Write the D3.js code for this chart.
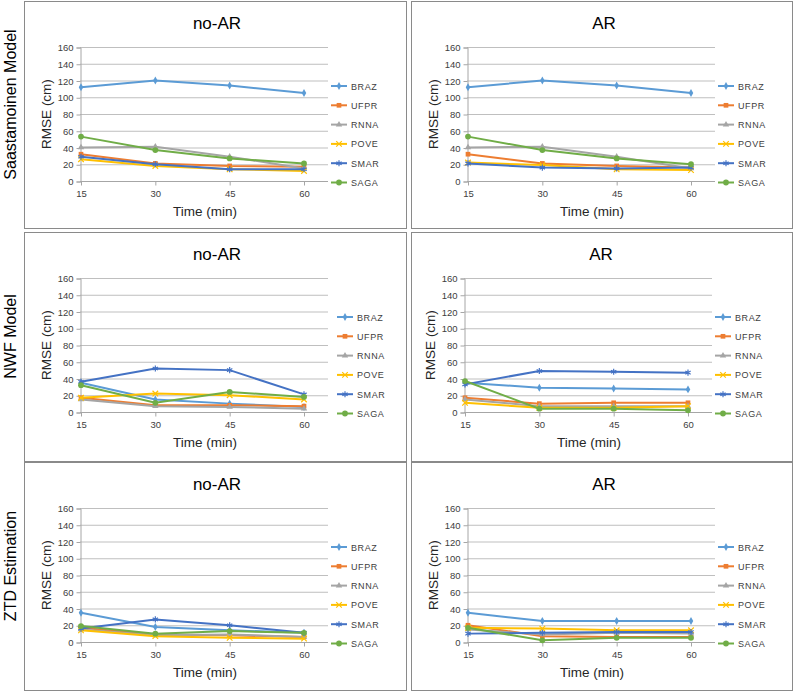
<!DOCTYPE html>
<html>
<head>
<meta charset="utf-8">
<script src="https://cdn.jsdelivr.net/npm/d3@7"></script>
<style>
  body { margin: 0; background: #fff; }
  text { font-family: "Liberation Sans", Arial, sans-serif; }
</style>
</head>
<body>
<svg id="chart" width="799" height="698"></svg>
<script>
    // data
    const times = [15, 30, 45, 60];
    const stations = ["BRAZ", "UFPR", "RNNA", "POVE", "SMAR", "SAGA"];
    const rowLabels = ["Saastamoinen Model", "NWF Model", "ZTD Estimation"];
    const colTitles = ["no-AR", "AR"];
    const yTicks = [0, 20, 40, 60, 80, 100, 120, 140, 160];

    // one array per panel, rows in station order
    const saasNoAR = [
        [112, 120, 114, 105],
        [32, 21, 18, 17],
        [40, 41, 29, 15],
        [26, 18, 14, 12],
        [29, 20, 14, 14],
        [53, 37, 27, 21]
    ];
    const saasAR = [
        [112, 120, 114, 105],
        [32, 21, 18, 16],
        [40, 41, 29, 15],
        [22, 19, 14, 13],
        [21, 16, 15, 16],
        [53, 37, 27, 20]
    ];
    const nwfNoAR = [
        [35, 15, 10, 6],
        [17, 8, 8, 7],
        [15, 7, 6, 4],
        [17, 22, 20, 15],
        [36, 52, 50, 21],
        [32, 11, 24, 18]
    ];
    const nwfAR = [
        [35, 29, 28, 27],
        [17, 10, 11, 11],
        [15, 7, 7, 7],
        [11, 5, 5, 7],
        [33, 49, 48, 47],
        [37, 4, 4, 2]
    ];
    const ztdNoAR = [
        [35, 18, 14, 11],
        [17, 9, 8, 6],
        [15, 8, 9, 6],
        [14, 7, 5, 4],
        [16, 27, 20, 11],
        [19, 10, 13, 11]
    ];
    const ztdAR = [
        [35, 25, 25, 25],
        [20, 7, 6, 6],
        [15, 9, 11, 10],
        [17, 16, 14, 14],
        [10, 11, 12, 12],
        [17, 2, 5, 5]
    ];

    const panelData = [[saasNoAR, saasAR], [nwfNoAR, nwfAR], [ztdNoAR, ztdAR]];

    const colors = ["#5B9BD5", "#ED7D31", "#A5A5A5", "#FFC000", "#4472C4", "#70AD47"];
    const symbols = [d3.symbolDiamond, d3.symbolSquare, d3.symbolTriangle, d3.symbolTimes, d3.symbolAsterisk, d3.symbolCircle];
    const strokeSymbol = [false, false, false, true, true, false];
    const symSize = [18, 22, 18, 22, 26, 26];

    const tickFont = "'Open Sans', 'Liberation Sans', sans-serif";

    const svg = d3.select("#chart");

    // panel frames
    const colX = [24, 411];
    const colW = [382, 381];
    const rowY = [1, 232, 462];
    const rowH = [227, 229, 228];
    const plotLeft = [[56, 56], [56, 53], [56, 56]];

    rowLabels.forEach(function(lbl, r) {
        svg.append("text")
            .attr("transform", "translate(16," + (rowY[r] + rowH[r] / 2 - 10) + ") rotate(-90)")
            .attr("text-anchor", "middle")
            .attr("font-size", 16)
            .attr("fill", "#000")
            .text(lbl);
    });

    panelData.forEach(function(row, r) {
        row.forEach(function(data, c) {
            const g = svg.append("g")
                .attr("transform", "translate(" + colX[c] + "," + rowY[r] + ")");

            g.append("rect")
                .attr("x", 0.5).attr("y", 0.5)
                .attr("width", colW[c]).attr("height", rowH[r])
                .attr("fill", "#fff")
                .attr("stroke", "#8a8a8a");

            const left = plotLeft[r][c];
            const top = 46, bottom = 180;
            const x = d3.scaleLinear().domain([15, 60]).range([left + 1, left + 224]);
            const y = d3.scaleLinear().domain([0, 160]).range([bottom, top]);
            const gridRight = left + 248;

            // gridlines
            g.append("g").selectAll("line")
                .data(yTicks.slice(1))
                .join("line")
                .attr("x1", left).attr("x2", gridRight)
                .attr("y1", d => y(d) + 0.5).attr("y2", d => y(d) + 0.5)
                .attr("stroke", "#bfbfbf");

            // y axis
            const yAxis = g.append("g")
                .attr("transform", "translate(" + (left + 0.5) + ",0.5)")
                .call(d3.axisLeft(y).tickValues(yTicks).tickSize(4).tickPadding(3));
            yAxis.select(".domain").attr("stroke", "#a6a6a6");
            yAxis.selectAll(".tick line").attr("stroke", "#a6a6a6");
            yAxis.selectAll(".tick text").attr("font-size", 9.5).attr("fill", "#404040")
                .attr("font-family", tickFont);

            // x axis
            const xAxis = g.append("g")
                .attr("transform", "translate(0," + (bottom + 0.5) + ")")
                .call(d3.axisBottom(x).tickValues(times).tickSize(4).tickPadding(5).tickSizeOuter(0));
            xAxis.select(".domain").attr("d", "M" + left + ",0H" + gridRight).attr("stroke", "#a6a6a6");
            xAxis.selectAll(".tick line").attr("stroke", "#a6a6a6");
            xAxis.selectAll(".tick text").attr("font-size", 9.5).attr("fill", "#404040")
                .attr("font-family", tickFont);

            // titles
            g.append("text")
                .attr("x", left + 137).attr("y", 28)
                .attr("text-anchor", "middle")
                .attr("font-size", 17)
                .attr("font-weight", "normal")
                .attr("fill", "#000")
                .text(colTitles[c]);
            g.append("text")
                .attr("transform", "translate(" + (left - 29) + "," + ((top + bottom) / 2) + ") rotate(-90)")
                .attr("text-anchor", "middle")
                .attr("font-size", 13.5)
                .attr("fill", "#262626")
                .text("RMSE (cm)");
            g.append("text")
                .attr("x", left + 125).attr("y", 215)
                .attr("text-anchor", "middle")
                .attr("font-size", 13.5)
                .attr("fill", "#262626")
                .text("Time (min)");

            // series
            const line = d3.line().x((d, i) => x(times[i])).y(d => y(d));
            data.forEach(function(vals, s) {
                g.append("path")
                    .datum(vals)
                    .attr("d", line)
                    .attr("fill", "none")
                    .attr("stroke", colors[s])
                    .attr("stroke-width", 2);
                g.append("g").selectAll("path")
                    .data(vals)
                    .join("path")
                    .attr("transform", (d, i) => "translate(" + x(times[i]) + "," + y(d) + ")")
                    .attr("d", d3.symbol(symbols[s], symSize[s]))
                    .attr("fill", strokeSymbol[s] ? "none" : colors[s])
                    .attr("stroke", colors[s])
                    .attr("stroke-width", strokeSymbol[s] ? 1.2 : 0);
            });

            // legend
            const lx = gridRight + (r === 1 ? (c === 0 ? 6 : 0) : 0) + 3;
            const leg = g.append("g").selectAll("g")
                .data(stations)
                .join("g")
                .attr("transform", (d, i) => "translate(" + lx + "," + (85 + i * 19.3) + ")");
            leg.append("line")
                .attr("x1", 0).attr("x2", 16)
                .attr("stroke", (d, i) => colors[i])
                .attr("stroke-width", 2);
            leg.append("path")
                .attr("transform", "translate(8,0)")
                .attr("d", (d, i) => d3.symbol(symbols[i], symSize[i])())
                .attr("fill", (d, i) => strokeSymbol[i] ? "none" : colors[i])
                .attr("stroke", (d, i) => colors[i])
                .attr("stroke-width", (d, i) => strokeSymbol[i] ? 1.2 : 0);
            leg.append("text")
                .attr("x", 20).attr("y", 3.5)
                .attr("font-size", 9)
                .attr("letter-spacing", 0.6)
                .attr("fill", "#404040")
                .attr("font-family", tickFont)
                .text(d => d);
        });
    });
</script>
</body>
</html>
